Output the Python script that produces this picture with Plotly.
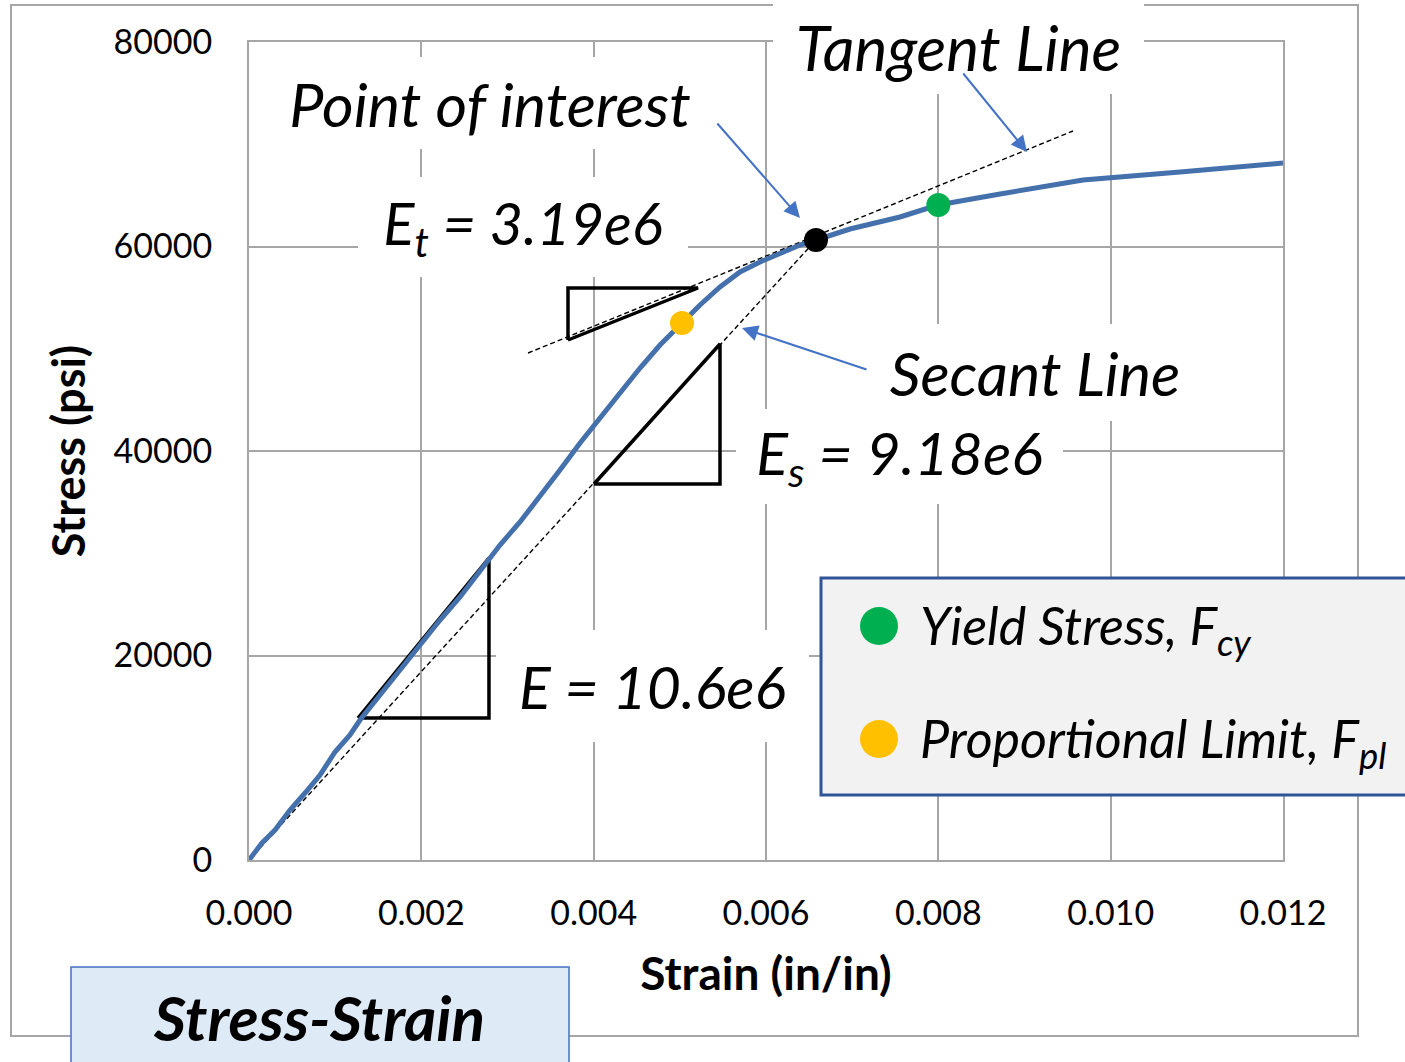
import plotly.graph_objects as go

# ---------------- data ----------------
strain = [0.0, 0.000151, 0.000302, 0.000476, 0.000650, 0.000824, 0.000998, 0.001172,
          0.001288, 0.001520, 0.001752, 0.001996, 0.002217, 0.002449, 0.002681,
          0.002913, 0.003145, 0.003377, 0.003609, 0.003842, 0.004074, 0.004306,
          0.004538, 0.004770, 0.005025, 0.005234, 0.005466, 0.005698, 0.005930,
          0.006162, 0.006394, 0.006580, 0.006975, 0.007555, 0.007996, 0.008716,
          0.009679, 0.010805, 0.012000]
stress = [0, 1663, 2934, 4890, 6553, 8313, 10562, 12225,
          13692, 16137, 18582, 21125, 23472, 25721, 28362,
          30807, 33056, 35501, 38142, 40782, 43227, 45770,
          48117, 50367, 52518, 54279, 56039, 57506, 58484,
          59364, 60147, 60636, 61711, 62885, 64059, 65134,
          66504, 67286, 68166]

poi_x, poi_y = [0.00658], [60636]          # point of interest
yield_x, yield_y = [0.0080], [64059]       # yield stress Fcy
pl_x, pl_y = [0.005025], [52518]           # proportional limit Fpl

tangent_x = [0.003238, 0.009563]
tangent_y = [49584, 71296]
secant_x = [0.0, 0.00658]
secant_y = [0, 60636]

tri_e_x = [0.001265, 0.002785, 0.002785, 0.001265]
tri_e_y = [13888, 13888, 29535, 13888]
tri_s_x = [0.004004, 0.005466, 0.005466, 0.004004]
tri_s_y = [36773, 36773, 50464, 36773]
tri_t_x = [0.003702, 0.003702, 0.005211, 0.003702]
tri_t_y = [50856, 55941, 55941, 50856]

x_ticks = [0.0, 0.002, 0.004, 0.006, 0.008, 0.010, 0.012]
y_ticks = [0, 20000, 40000, 60000, 80000]

# arrows: (tail strain, tail stress, head strain, head stress)
arrow_poi = [0.00542, 72176, 0.006394, 62787]
arrow_tan = [0.008275, 77066, 0.009029, 69242]
arrow_sec = [0.007184, 47922, 0.005721, 52029]

# ---------------- layout helpers ----------------
W, H = 1405, 1062
L, R, T, B = 249, 1283, 42, 860


def px(x):
    return (x - L) / (R - L)


def py(y):
    return (B - y) / (B - T)


FONT = "Lato"
GRID = "#A6A6A6"
BLUE = "#4472C4"
CURVE = "#4470AC"

fig = go.Figure()

fig.add_trace(go.Scatter(x=secant_x, y=secant_y, mode="lines",
                         line=dict(color="black", width=1.4, dash="5px,3px"),
                         name="Secant Line", showlegend=False, hoverinfo="skip"))
fig.add_trace(go.Scatter(x=tangent_x, y=tangent_y, mode="lines",
                         line=dict(color="black", width=1.4, dash="5px,3px"),
                         name="Tangent Line", showlegend=False, hoverinfo="skip"))
for tx, ty, nm in [(tri_e_x, tri_e_y, "E"), (tri_s_x, tri_s_y, "Es"), (tri_t_x, tri_t_y, "Et")]:
    fig.add_trace(go.Scatter(x=tx, y=ty, mode="lines",
                             line=dict(color="black", width=3.5),
                             name=nm, showlegend=False, hoverinfo="skip"))
fig.add_trace(go.Scatter(x=strain, y=stress, mode="lines",
                         line=dict(color=CURVE, width=5),
                         name="Stress-Strain", showlegend=False))
fig.add_trace(go.Scatter(x=poi_x, y=poi_y, mode="markers",
                         marker=dict(color="black", size=24),
                         name="Point of interest", showlegend=False))
fig.add_trace(go.Scatter(x=yield_x, y=yield_y, mode="markers",
                         marker=dict(color="#00B050", size=24),
                         name="Yield Stress, Fcy", showlegend=False))
fig.add_trace(go.Scatter(x=pl_x, y=pl_y, mode="markers",
                         marker=dict(color="#FFC000", size=24),
                         name="Proportional Limit, Fpl", showlegend=False))

shapes = []
# outer chart frame
shapes.append(dict(type="rect", xref="paper", yref="paper",
                   x0=px(11), x1=px(1358), y0=py(1036), y1=py(5),
                   line=dict(color=GRID, width=2), fillcolor="rgba(0,0,0,0)", layer="above"))
# legend box
shapes.append(dict(type="rect", xref="paper", yref="paper",
                   x0=px(821), x1=px(1412), y0=py(795), y1=py(578),
                   line=dict(color="#2F5597", width=3), fillcolor="#F2F2F2", layer="above"))
shapes.append(dict(type="circle", xref="paper", yref="paper",
                   x0=px(860), x1=px(898), y0=py(645), y1=py(607),
                   line=dict(width=0), fillcolor="#00B050", layer="above"))
shapes.append(dict(type="circle", xref="paper", yref="paper",
                   x0=px(860), x1=px(898), y0=py(758), y1=py(720),
                   line=dict(width=0), fillcolor="#FFC000", layer="above"))
# title box
shapes.append(dict(type="rect", xref="paper", yref="paper",
                   x0=px(71), x1=px(569), y0=py(1090), y1=py(967),
                   line=dict(color=BLUE, width=1.5), fillcolor="#DEEBF7", layer="above"))

annotations = []


def textbox(text, cx, cy, w, h, size, bg="white", style="italic", weight="normal", align="center"):
    annotations.append(dict(text=text, xref="paper", yref="paper",
                            x=px(cx), y=py(cy), xanchor="center", yanchor="middle",
                            showarrow=False, width=w, height=h, bgcolor=bg,
                            borderpad=0, borderwidth=0, align=align, valign="middle",
                            font=dict(family=FONT, size=size, color="black",
                                      style=style, weight=weight)))


textbox("Point of interest", 490, 103, 440, 92, 61)
textbox("Tangent Line", 958, 47, 371, 94, 62)
textbox("E<sub>t</sub> = 3.19e6", 523, 227, 330, 100, 58)
textbox("Secant Line", 1035, 373, 330, 97, 61)
textbox("E<sub>s</sub> = 9.18e6", 899, 456, 327, 95, 59)
textbox("E = 10.6e6", 652, 686, 313, 112, 59)

# legend texts
for t, cy in [("Yield Stress, F<sub>cy</sub>", 629), ("Proportional Limit, F<sub>pl</sub>", 742)]:
    annotations.append(dict(text=t, xref="paper", yref="paper", x=px(918), y=py(cy),
                            xanchor="left", yanchor="middle", showarrow=False,
                            font=dict(family=FONT, size=52, color="black", style="italic")))
# title text
annotations.append(dict(text="<b><i>Stress-Strain</i></b>", xref="paper", yref="paper",
                        x=px(319), y=py(1017), xanchor="center", yanchor="middle",
                        showarrow=False, font=dict(family=FONT, size=62, color="black")))

# arrows
for a in [arrow_poi, arrow_tan, arrow_sec]:
    annotations.append(dict(text="", x=a[2], y=a[3], ax=a[0], ay=a[1],
                            xref="x", yref="y", axref="x", ayref="y",
                            showarrow=True, arrowhead=2, arrowsize=1.6,
                            arrowwidth=2, arrowcolor=BLUE, standoff=0))

fig.update_layout(
    width=W, height=H,
    margin=dict(l=L, r=W - R, t=T, b=H - B),
    paper_bgcolor="white", plot_bgcolor="white",
    showlegend=False,
    shapes=shapes, annotations=annotations,
    font=dict(family=FONT, color="black"),
)
fig.update_xaxes(range=[0, 0.012], tickvals=x_ticks,
                 ticktext=[f"{v:.3f}" for v in x_ticks],
                 showgrid=True, gridcolor=GRID, gridwidth=2,
                 showline=True, linecolor=GRID, linewidth=2, mirror=True,
                 zeroline=False, ticks="", ticklabelstandoff=22,
                 tickfont=dict(family=FONT, size=34, color="black"),
                 title=dict(text="<b>Strain (in/in)</b>", standoff=27,
                            font=dict(family=FONT, size=46, color="black")))
fig.update_yaxes(range=[0, 80000], tickvals=y_ticks,
                 ticktext=[str(v) for v in y_ticks],
                 showgrid=True, gridcolor=GRID, gridwidth=2,
                 showline=True, linecolor=GRID, linewidth=2, mirror=True,
                 zeroline=False, ticks="", ticklabelstandoff=28,
                 tickfont=dict(family=FONT, size=34, color="black"),
                 title=dict(text="<b>Stress (psi)</b>", standoff=14,
                            font=dict(family=FONT, size=45, color="black")))

fig.write_html("out.html")
